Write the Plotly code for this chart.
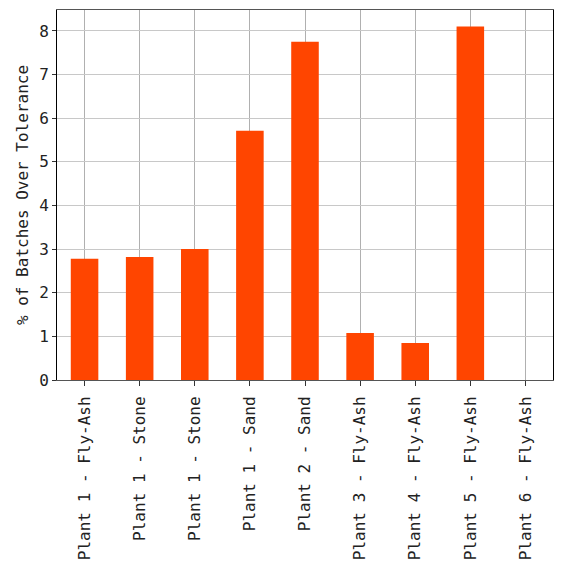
import plotly.graph_objects as go

categories = ["Plant 1 - Fly-Ash", "Plant 1 - Stone", "Plant 1 - Stone", "Plant 1 - Sand",
              "Plant 2 - Sand", "Plant 3 - Fly-Ash", "Plant 4 - Fly-Ash", "Plant 5 - Fly-Ash",
              "Plant 6 - Fly-Ash"]
values = [2.78, 2.82, 3.0, 5.71, 7.75, 1.08, 0.85, 8.10, 0.0]
y_title = "% of Batches Over Tolerance"

idx = list(range(len(categories)))
font = "DejaVu Sans Mono"

fig = go.Figure(go.Bar(x=idx, y=values, width=0.5, marker=dict(color="#FF4500", line=dict(width=0))))

fig.update_layout(
    width=565, height=573,
    margin=dict(l=49, r=20, t=2, b=201),
    plot_bgcolor="white", paper_bgcolor="white",
    font=dict(family=font, size=16, color="#222"),
    showlegend=False,
)
fig.update_xaxes(
    range=[-0.5, len(categories) - 0.5], tickmode="array", tickvals=idx, ticktext=categories,
    tickangle=-90, showgrid=True, gridcolor="#b0b0b0", gridwidth=1,
    showline=True, linecolor="#555", linewidth=1, mirror=True,
    ticks="outside", ticklen=5, tickcolor="#333", layer="above traces",
    ticklabelstandoff=4,
    tickfont=dict(family=font, size=16), zeroline=False, automargin=False,
)
fig.update_yaxes(
    range=[0, 8.48], tickvals=list(range(0, 9)), showgrid=True, gridcolor="#c8c8c8", gridwidth=1,
    showline=True, linecolor="black", linewidth=1, mirror=True,
    ticks="outside", ticklen=4, tickcolor="#333", layer="above traces",
    title=dict(text=y_title, font=dict(family=font, size=16), standoff=6),
    tickfont=dict(family=font, size=16), zeroline=False, automargin=False,
)

fig.write_html("out.html")
